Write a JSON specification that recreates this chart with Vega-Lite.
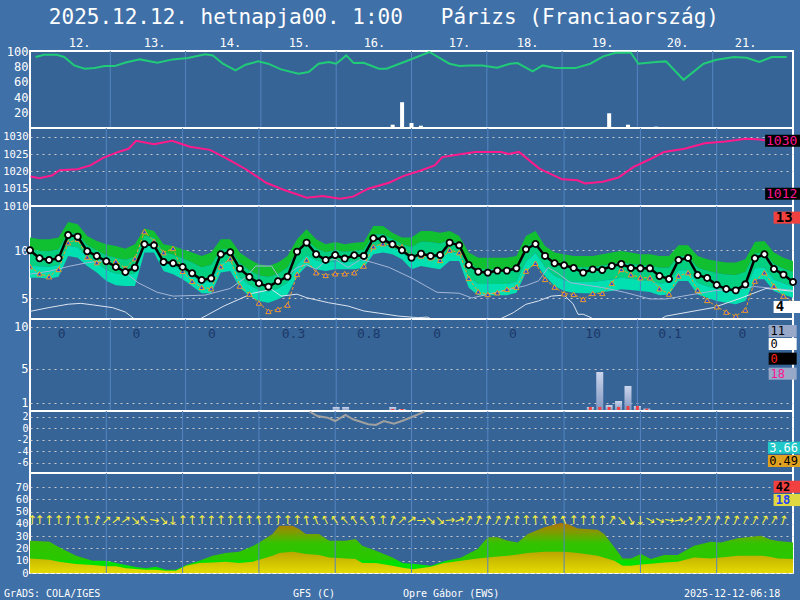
{
"$schema": "https://vega.github.io/schema/vega-lite/v6.json",
"padding": 0,
"autosize": {"type": "pad"},
"background": "#4070a8",
"spacing": 0,
"bounds": "flush",
"resolve": {"scale": {"color": "independent", "fill": "independent"}},
"config": {
  "view": {"stroke": "#ffffff", "strokeWidth": 2, "fill": "#366496"},
  "axis": {"labelFont": "DejaVu Sans Mono", "labelFontSize": 12, "labelColor": "#ffffff", "grid": true, "gridColor": "#c8c8c8", "gridDash": [2, 4], "gridWidth": 1, "domain": false, "ticks": false, "labelPadding": 2, "labelOverlap": false},
  "text": {"font": "DejaVu Sans Mono"}
},
"datasets": {
  "vg": [{"h":24},{"h":48},{"h":72},{"h":96},{"h":120},{"h":144},{"h":168},{"h":192},{"h":216}],
  "days": [{"d":"12.","h":14.2},{"d":"13.","h":38.1},{"d":"14.","h":62.3},{"d":"15.","h":84.3},{"d":"16.","h":108.2},{"d":"17.","h":135.3},{"d":"18.","h":157.0},{"d":"19.","h":180.9},{"d":"20.","h":204.8},{"d":"21.","h":226.5}],
  "rh": [{"h":0.2,"v":92.2},{"h":2.9,"v":95.2},{"h":6.9,"v":95.2},{"h":9.3,"v":92.2},{"h":12.5,"v":81.3},{"h":15.8,"v":77.0},{"h":19.0,"v":77.8},{"h":22.2,"v":80.4},{"h":25.4,"v":80.4},{"h":28.6,"v":84.8},{"h":33.4,"v":89.1},{"h":39.0,"v":84.8},{"h":43.9,"v":89.1},{"h":48.7,"v":90.9},{"h":54.3,"v":95.7},{"h":56.7,"v":94.3},{"h":59.9,"v":83.5},{"h":63.9,"v":74.8},{"h":67.1,"v":82.2},{"h":71.1,"v":86.5},{"h":74.3,"v":83.5},{"h":78.4,"v":76.1},{"h":84.0,"v":70.4},{"h":87.2,"v":72.6},{"h":90.4,"v":83.5},{"h":93.6,"v":85.7},{"h":96.0,"v":83.5},{"h":99.2,"v":94.3},{"h":101.6,"v":84.3},{"h":104.8,"v":84.8},{"h":109.6,"v":77.0},{"h":112.0,"v":77.0},{"h":117.7,"v":85.7},{"h":121.7,"v":92.2},{"h":125.7,"v":98.7},{"h":132.1,"v":83.5},{"h":135.3,"v":80.4},{"h":138.5,"v":81.3},{"h":142.5,"v":81.3},{"h":147.3,"v":78.3},{"h":151.4,"v":83.5},{"h":153.8,"v":84.3},{"h":158.6,"v":73.5},{"h":161.8,"v":81.3},{"h":165.8,"v":77.8},{"h":172.2,"v":77.8},{"h":177.0,"v":83.5},{"h":181.1,"v":93.0},{"h":185.1,"v":97.8},{"h":189.9,"v":97.8},{"h":192.3,"v":83.5},{"h":197.9,"v":85.7},{"h":201.1,"v":86.5},{"h":206.7,"v":62.6},{"h":213.1,"v":83.5},{"h":217.2,"v":88.7},{"h":222.8,"v":92.2},{"h":226.8,"v":91.3},{"h":230.8,"v":85.7},{"h":234.8,"v":92.2},{"h":239.6,"v":92.2}],
  "rhb": [{"h":114,"v":4.3},{"h":117,"v":33.5},{"h":120,"v":6.5},{"h":123,"v":3.0},{"h":183,"v":19.1},{"h":189,"v":4.3},{"h":198,"v":1.7}],
  "p": [{"h":0.2,"v":1018.5},{"h":2.9,"v":1018.0},{"h":6.9,"v":1018.8},{"h":9.3,"v":1020.3},{"h":14.9,"v":1020.6},{"h":19.0,"v":1021.7},{"h":23.0,"v":1023.9},{"h":27.8,"v":1025.6},{"h":31.0,"v":1026.5},{"h":33.4,"v":1028.8},{"h":39.0,"v":1027.8},{"h":44.7,"v":1028.8},{"h":50.3,"v":1027.1},{"h":56.6,"v":1026.2},{"h":61.5,"v":1023.9},{"h":67.9,"v":1020.6},{"h":74.3,"v":1016.7},{"h":80.0,"v":1014.6},{"h":87.1,"v":1012.4},{"h":92.0,"v":1012.9},{"h":97.6,"v":1012.1},{"h":101.6,"v":1012.7},{"h":106.4,"v":1015.0},{"h":112.9,"v":1016.7},{"h":117.6,"v":1018.7},{"h":122.5,"v":1020.1},{"h":127.3,"v":1021.7},{"h":129.7,"v":1024.1},{"h":135.3,"v":1024.9},{"h":140.1,"v":1025.6},{"h":148.2,"v":1025.6},{"h":150.6,"v":1025.0},{"h":153.8,"v":1025.6},{"h":160.2,"v":1020.8},{"h":167.4,"v":1017.7},{"h":172.2,"v":1017.4},{"h":174.6,"v":1016.5},{"h":180.2,"v":1017.0},{"h":185.1,"v":1018.2},{"h":189.9,"v":1021.3},{"h":195.5,"v":1023.7},{"h":199.5,"v":1025.6},{"h":205.9,"v":1026.5},{"h":212.3,"v":1028.1},{"h":218.8,"v":1028.6},{"h":225.2,"v":1029.4},{"h":229.9,"v":1029.2},{"h":231.6,"v":1028.8},{"h":240,"v":1029.0}],
  "t": [
{"h":0,"t":10.0,"d":8.29,"top":11.33,"q1":10.07,"q2":8.39,"bot":7.13},
{"h":3,"t":9.16,"d":7.55,"top":11.15,"q1":9.94,"q2":8.34,"bot":7.13},
{"h":6,"t":8.99,"d":7.24,"top":11.15,"q1":9.91,"q2":8.27,"bot":7.03},
{"h":9,"t":9.16,"d":8.0,"top":11.33,"q1":10.10,"q2":8.47,"bot":7.24},
{"h":12,"t":11.6,"d":10.8,"top":12.97,"q1":11.90,"q2":10.48,"bot":9.41},
{"h":15,"t":11.43,"d":11.15,"top":12.73,"q1":11.68,"q2":10.28,"bot":9.23},
{"h":18,"t":9.9,"d":9.3,"top":11.5,"q1":10.56,"q2":9.30,"bot":8.36},
{"h":21,"t":9.4,"d":8.71,"top":10.98,"q1":9.98,"q2":8.66,"bot":7.66},
{"h":24,"t":8.85,"d":8.78,"top":10.63,"q1":9.47,"q2":7.93,"bot":6.78},
{"h":27,"t":8.25,"d":8.85,"top":10.45,"q1":9.21,"q2":7.57,"bot":6.33},
{"h":30,"t":7.73,"d":8.11,"top":10.17,"q1":9.0,"q2":7.43,"bot":6.26},
{"h":33,"t":8.18,"d":9.13,"top":10.63,"q1":9.32,"q2":7.57,"bot":6.26},
{"h":36,"t":10.63,"d":11.96,"top":12.27,"q1":11.52,"q2":10.51,"bot":9.76},
{"h":39,"t":10.52,"d":10.94,"top":12.03,"q1":11.35,"q2":10.44,"bot":9.76},
{"h":42,"t":8.78,"d":9.76,"top":10.63,"q1":9.79,"q2":8.67,"bot":7.83},
{"h":45,"t":8.64,"d":10.2,"top":10.45,"q1":9.56,"q2":8.37,"bot":7.48},
{"h":48,"t":8.25,"d":7.8,"top":10.1,"q1":9.16,"q2":7.9,"bot":6.96},
{"h":51,"t":7.59,"d":6.75,"top":9.76,"q1":8.71,"q2":7.31,"bot":6.26},
{"h":54,"t":6.89,"d":6.12,"top":9.41,"q1":8.23,"q2":6.67,"bot":5.49},
{"h":57,"t":7.06,"d":5.98,"top":9.76,"q1":8.48,"q2":6.77,"bot":5.49},
{"h":60,"t":9.58,"d":8.29,"top":11.15,"q1":10.10,"q2":8.71,"bot":7.66},
{"h":63,"t":9.79,"d":9.13,"top":11.15,"q1":10.15,"q2":8.83,"bot":7.83},
{"h":66,"t":8.08,"d":6.26,"top":9.76,"q1":8.66,"q2":7.18,"bot":6.08},
{"h":69,"t":7.2,"d":5.42,"top":9.06,"q1":7.9,"q2":6.37,"bot":5.21},
{"h":72,"t":6.54,"d":4.48,"top":8.53,"q1":7.38,"q2":5.84,"bot":4.69},
{"h":75,"t":6.19,"d":3.6,"top":8.36,"q1":7.2,"q2":5.67,"bot":4.51},
{"h":78,"t":6.75,"d":3.81,"top":8.71,"q1":7.55,"q2":6.02,"bot":4.86},
{"h":81,"t":7.24,"d":4.27,"top":9.41,"q1":8.2,"q2":6.59,"bot":5.38},
{"h":84,"t":9.86,"d":7.48,"top":11.15,"q1":10.0,"q2":8.46,"bot":7.31},
{"h":87,"t":10.8,"d":8.99,"top":12.2,"q1":11.05,"q2":9.51,"bot":8.36},
{"h":90,"t":9.58,"d":7.66,"top":11.15,"q1":10.21,"q2":8.95,"bot":8.0},
{"h":93,"t":8.99,"d":7.38,"top":10.63,"q1":9.79,"q2":8.67,"bot":7.83},
{"h":96,"t":9.51,"d":7.55,"top":10.87,"q1":10.01,"q2":8.86,"bot":8.0},
{"h":99,"t":9.13,"d":7.55,"top":10.63,"q1":9.84,"q2":8.79,"bot":8.0},
{"h":102,"t":9.48,"d":7.66,"top":10.8,"q1":9.96,"q2":8.84,"bot":8.0},
{"h":105,"t":9.41,"d":8.36,"top":10.87,"q1":10.06,"q2":8.99,"bot":8.18},
{"h":108,"t":11.26,"d":10.38,"top":12.55,"q1":11.66,"q2":10.47,"bot":9.58},
{"h":111,"t":11.15,"d":10.7,"top":12.55,"q1":11.71,"q2":10.6,"bot":9.76},
{"h":114,"t":10.63,"d":10.52,"top":11.85,"q1":11.17,"q2":10.26,"bot":9.58},
{"h":117,"t":10.0,"d":10.38,"top":11.33,"q1":10.65,"q2":9.74,"bot":9.06},
{"h":120,"t":9.23,"d":9.41,"top":11.33,"q1":10.33,"q2":9.0,"bot":8.0},
{"h":123,"t":9.65,"d":9.41,"top":12.03,"q1":10.93,"q2":9.46,"bot":8.36},
{"h":126,"t":9.41,"d":9.23,"top":12.03,"q1":10.87,"q2":9.33,"bot":8.18},
{"h":129,"t":9.51,"d":8.95,"top":11.85,"q1":10.7,"q2":9.15,"bot":8.0},
{"h":132,"t":10.8,"d":10.03,"top":12.03,"q1":11.09,"q2":9.83,"bot":8.88},
{"h":135,"t":10.52,"d":9.76,"top":11.5,"q1":10.71,"q2":9.67,"bot":8.88},
{"h":138,"t":8.46,"d":7.06,"top":9.76,"q1":8.66,"q2":7.18,"bot":6.08},
{"h":141,"t":7.76,"d":5.66,"top":9.23,"q1":8.05,"q2":6.47,"bot":5.28},
{"h":144,"t":7.66,"d":5.38,"top":9.23,"q1":8.05,"q2":6.47,"bot":5.28},
{"h":147,"t":7.87,"d":5.56,"top":9.23,"q1":8.05,"q2":6.47,"bot":5.28},
{"h":150,"t":7.87,"d":5.91,"top":9.23,"q1":8.05,"q2":6.47,"bot":5.28},
{"h":153,"t":8.11,"d":6.15,"top":9.41,"q1":8.25,"q2":6.71,"bot":5.56},
{"h":156,"t":10.1,"d":7.83,"top":11.5,"q1":10.35,"q2":8.81,"bot":7.66},
{"h":159,"t":10.66,"d":8.64,"top":12.03,"q1":11.03,"q2":9.71,"bot":8.71},
{"h":162,"t":9.41,"d":6.96,"top":10.45,"q1":9.51,"q2":8.25,"bot":7.31},
{"h":165,"t":8.64,"d":6.15,"top":9.76,"q1":8.71,"q2":7.31,"bot":6.26},
{"h":168,"t":8.43,"d":5.45,"top":9.58,"q1":8.43,"q2":6.89,"bot":5.73},
{"h":171,"t":8.15,"d":5.38,"top":9.41,"q1":8.25,"q2":6.71,"bot":5.56},
{"h":174,"t":7.66,"d":4.86,"top":9.41,"q1":8.23,"q2":6.67,"bot":5.49},
{"h":177,"t":8.0,"d":5.49,"top":9.41,"q1":8.23,"q2":6.67,"bot":5.49},
{"h":180,"t":7.94,"d":5.49,"top":9.58,"q1":8.4,"q2":6.82,"bot":5.63},
{"h":183,"t":8.36,"d":6.54,"top":9.76,"q1":8.55,"q2":6.94,"bot":5.73},
{"h":186,"t":8.57,"d":8.0,"top":9.93,"q1":8.72,"q2":7.12,"bot":5.91},
{"h":189,"t":8.15,"d":7.45,"top":9.76,"q1":8.58,"q2":7.02,"bot":5.84},
{"h":192,"t":8.11,"d":7.13,"top":9.58,"q1":8.43,"q2":6.89,"bot":5.73},
{"h":195,"t":8.11,"d":7.13,"top":9.58,"q1":8.4,"q2":6.82,"bot":5.63},
{"h":198,"t":7.31,"d":5.98,"top":9.41,"q1":8.17,"q2":6.52,"bot":5.28},
{"h":201,"t":6.99,"d":5.42,"top":9.41,"q1":8.2,"q2":6.59,"bot":5.38},
{"h":204,"t":8.99,"d":7.31,"top":10.52,"q1":9.4,"q2":7.9,"bot":6.78},
{"h":207,"t":9.2,"d":7.66,"top":10.52,"q1":9.4,"q2":7.9,"bot":6.78},
{"h":210,"t":7.41,"d":5.84,"top":9.41,"q1":8.2,"q2":6.59,"bot":5.38},
{"h":213,"t":7.1,"d":4.76,"top":9.06,"q1":7.85,"q2":6.24,"bot":5.03},
{"h":216,"t":6.36,"d":4.09,"top":8.88,"q1":7.62,"q2":5.95,"bot":4.69},
{"h":219,"t":5.94,"d":3.53,"top":8.71,"q1":7.45,"q2":5.77,"bot":4.51},
{"h":222,"t":5.8,"d":3.11,"top":8.71,"q1":7.4,"q2":5.65,"bot":4.34},
{"h":225,"t":6.43,"d":3.74,"top":9.06,"q1":7.75,"q2":6.0,"bot":4.69},
{"h":228,"t":9.16,"d":6.78,"top":10.87,"q1":9.7,"q2":8.13,"bot":6.96},
{"h":231,"t":9.58,"d":7.66,"top":10.98,"q1":9.77,"q2":8.17,"bot":6.96},
{"h":234,"t":8.04,"d":6.26,"top":9.76,"q1":8.55,"q2":6.94,"bot":5.73},
{"h":237,"t":7.45,"d":5.21,"top":9.23,"q1":8.08,"q2":6.54,"bot":5.38},
{"h":240,"t":6.68,"d":4.51,"top":8.88,"q1":7.73,"q2":6.18,"bot":5.03}
  ],
  "g1": [{"h":0,"v":7.5},{"h":6,"v":7.8},{"h":12,"v":8.3},{"h":18,"v":8.7},{"h":23,"v":8.9},{"h":28,"v":8.2},{"h":34,"v":6.6},{"h":40,"v":5.6},{"h":45,"v":5.2},{"h":55,"v":5.3},{"h":63,"v":6.0},{"h":68,"v":7.2},{"h":71,"v":8.35},{"h":76,"v":8.35},{"h":79,"v":6.8},{"h":84,"v":8.2},{"h":87,"v":8.5},{"h":90,"v":8.0},{"h":93,"v":8.9},{"h":96,"v":9.05},{"h":100,"v":8.2},{"h":104,"v":9.05},{"h":108,"v":8.7},{"h":113,"v":8.2},{"h":120,"v":7.1},{"h":128,"v":5.6},{"h":135,"v":5.5},{"h":139,"v":5.0},{"h":148,"v":5.7},{"h":156,"v":6.3},{"h":160,"v":6.8},{"h":163,"v":8.2},{"h":166,"v":7.6},{"h":170,"v":6.6},{"h":180,"v":6.1},{"h":187,"v":5.6},{"h":195,"v":4.9},{"h":200,"v":4.9},{"h":209,"v":5.4},{"h":216,"v":5.8},{"h":222,"v":5.9},{"h":228,"v":6.2},{"h":234,"v":6.0},{"h":240,"v":5.8}],
  "g2": [{"h":0,"v":3.6},{"h":6,"v":4.0},{"h":12,"v":4.35},{"h":16,"v":4.44},{"h":20,"v":4.27},{"h":26,"v":3.99},{"h":30,"v":3.53},{"h":33,"v":2.76},{"h":36,"v":2.0},{"h":50,"v":2.0},{"h":54,"v":2.9},{"h":61,"v":4.16},{"h":70,"v":5.49},{"h":76,"v":5.9},{"h":79,"v":5.2},{"h":84,"v":5.4},{"h":87,"v":5.03},{"h":94,"v":4.5},{"h":100,"v":4.16},{"h":105,"v":3.64},{"h":110,"v":3.4},{"h":116,"v":3.1},{"h":122,"v":2.94},{"h":125,"v":3.0},{"h":128,"v":2.5},{"h":146,"v":2.5},{"h":152,"v":3.46},{"h":156,"v":4.34},{"h":160,"v":4.7},{"h":164,"v":5.2},{"h":168,"v":5.3},{"h":170.8,"v":4.4},{"h":172.4,"v":3.29},{"h":174,"v":3.3},{"h":176.5,"v":2.94},{"h":178,"v":2.5},{"h":197,"v":2.5},{"h":200,"v":3.1},{"h":215,"v":4.0},{"h":223.7,"v":5.0},{"h":231.5,"v":6.0},{"h":240,"v":5.7}],
  "pb": [{"h":96,"v":0.48},{"h":99,"v":0.48},{"h":114,"v":0.48},{"h":117,"v":0.24},{"h":177,"v":0.48},{"h":180,"v":4.64},{"h":183,"v":0.71},{"h":186,"v":1.19},{"h":189,"v":2.98},{"h":192,"v":0.6},{"h":195,"v":0.28}],
  "pr": [{"h":114,"v":0.24},{"h":117,"v":0.24},{"h":177,"v":0.48},{"h":180,"v":0.48},{"h":183,"v":0.48},{"h":186,"v":0.48},{"h":189,"v":0.6},{"h":192,"v":0.6},{"h":195,"v":0.28}],
  "pl": [{"h":8.5,"s":"0"},{"h":32.3,"s":"0"},{"h":56.4,"s":"0"},{"h":82.4,"s":"0.3"},{"h":106.4,"s":"0.8"},{"h":128.2,"s":"0"},{"h":152.3,"s":"0"},{"h":177.9,"s":"10"},{"h":202.4,"s":"0.1"},{"h":225.5,"s":"0"}],
  "s5": [{"h":88.0,"v":2.92},{"h":90.4,"v":2.17},{"h":93.6,"v":1.88},{"h":96.0,"v":1.30},{"h":99.2,"v":2.35},{"h":101.6,"v":1.6},{"h":106.4,"v":0.73},{"h":108.8,"v":0.61},{"h":111.3,"v":1.30},{"h":114.5,"v":0.83},{"h":117.6,"v":1.43},{"h":120.9,"v":2.17},{"h":124.1,"v":2.92}],
  "w": [{"h":0,"g":26.3,"s":11.9},{"h":6.1,"g":25.5,"s":10.8},{"h":9.2,"g":20.9,"s":9.2},{"h":14.5,"g":14.1,"s":7.3},{"h":19.7,"g":10.0,"s":6.5},{"h":23.9,"g":10.0,"s":5.4},{"h":27.1,"g":8.1,"s":5.4},{"h":30.2,"g":6.5,"s":3.8},{"h":33.3,"g":4.9,"s":3.2},{"h":36.5,"g":3.8,"s":2.7},{"h":39.6,"g":5.1,"s":2.7},{"h":42.8,"g":2.7,"s":1.9},{"h":45.9,"g":2.7,"s":1.9},{"h":49.1,"g":6.5,"s":5.9},{"h":53.3,"g":10.0,"s":8.1},{"h":57.4,"g":14.1,"s":8.6},{"h":61.6,"g":16.2,"s":9.2},{"h":65.8,"g":17.3,"s":8.1},{"h":70.0,"g":21.7,"s":9.2},{"h":72.1,"g":24.9,"s":10.8},{"h":76.3,"g":31.7,"s":14.1},{"h":78.4,"g":38.5,"s":16.2},{"h":82.6,"g":38.5,"s":17.3},{"h":84.6,"g":35.8,"s":16.5},{"h":86.7,"g":31.7,"s":15.4},{"h":90.9,"g":31.7,"s":14.6},{"h":94.1,"g":26.3,"s":12.7},{"h":99.3,"g":26.3,"s":11.9},{"h":102.4,"g":27.6,"s":11.4},{"h":104.5,"g":22.2,"s":8.1},{"h":108.8,"g":18.1,"s":8.1},{"h":114.0,"g":12.7,"s":5.9},{"h":117.2,"g":8.1,"s":4.3},{"h":120.5,"g":7.5,"s":3.0},{"h":126.1,"g":6.0,"s":5.0},{"h":130.3,"g":9.5,"s":8.1},{"h":135.6,"g":12.7,"s":10.0},{"h":140.8,"g":19.5,"s":11.9},{"h":144.0,"g":29.0,"s":12.7},{"h":147.1,"g":29.0,"s":13.4},{"h":150.3,"g":26.3,"s":14.1},{"h":153.4,"g":24.9,"s":15.0},{"h":156.6,"g":31.7,"s":16.2},{"h":161.8,"g":37.2,"s":17.3},{"h":167.0,"g":40.7,"s":17.3},{"h":169.1,"g":39.8,"s":17.0},{"h":172.3,"g":36.3,"s":16.2},{"h":178.6,"g":35.2,"s":14.1},{"h":180.6,"g":31.7,"s":12.5},{"h":183.8,"g":20.9,"s":10.0},{"h":186.4,"g":11.9,"s":5.9},{"h":189.0,"g":11.9,"s":5.9},{"h":192.2,"g":15.4,"s":7.0},{"h":195.3,"g":11.4,"s":7.5},{"h":199.5,"g":14.6,"s":8.6},{"h":203.7,"g":14.6,"s":9.2},{"h":208.9,"g":22.2,"s":12.7},{"h":214.2,"g":25.5,"s":11.9},{"h":217.3,"g":24.9,"s":12.7},{"h":222.6,"g":28.2,"s":14.1},{"h":229.9,"g":30.3,"s":14.1},{"h":233.1,"g":27.1,"s":13.0},{"h":235.2,"g":26.0,"s":11.9},{"h":240,"g":24.9,"s":11.4}],
  "arr": [{"h":0.6,"dir":0},{"h":3,"dir":0},{"h":6,"dir":0},{"h":9,"dir":0},{"h":12,"dir":5},{"h":15,"dir":0},{"h":18,"dir":350},{"h":21,"dir":20},{"h":24,"dir":45},{"h":27,"dir":50},{"h":30,"dir":55},{"h":33,"dir":135},{"h":36,"dir":315},{"h":39,"dir":100},{"h":42,"dir":140},{"h":45,"dir":180},{"h":48,"dir":0},{"h":51,"dir":0},{"h":54,"dir":0},{"h":57,"dir":5},{"h":60,"dir":0},{"h":63,"dir":0},{"h":66,"dir":0},{"h":69,"dir":355},{"h":72,"dir":350},{"h":75,"dir":0},{"h":78,"dir":0},{"h":81,"dir":0},{"h":84,"dir":0},{"h":87,"dir":350},{"h":90,"dir":340},{"h":93,"dir":335},{"h":96,"dir":325},{"h":99,"dir":320},{"h":102,"dir":325},{"h":105,"dir":320},{"h":108,"dir":340},{"h":111,"dir":0},{"h":114,"dir":20},{"h":117,"dir":45},{"h":120,"dir":55},{"h":123,"dir":90},{"h":126,"dir":130},{"h":129,"dir":135},{"h":132,"dir":85},{"h":135,"dir":70},{"h":138,"dir":30},{"h":141,"dir":20},{"h":144,"dir":20},{"h":147,"dir":25},{"h":150,"dir":20},{"h":153,"dir":10},{"h":156,"dir":0},{"h":159,"dir":355},{"h":162,"dir":350},{"h":165,"dir":350},{"h":168,"dir":340},{"h":171,"dir":0},{"h":174,"dir":0},{"h":177,"dir":0},{"h":180,"dir":0},{"h":183,"dir":30},{"h":186,"dir":140},{"h":189,"dir":150},{"h":192,"dir":180},{"h":195,"dir":120},{"h":198,"dir":115},{"h":201,"dir":100},{"h":204,"dir":80},{"h":207,"dir":60},{"h":210,"dir":40},{"h":213,"dir":30},{"h":216,"dir":25},{"h":219,"dir":20},{"h":222,"dir":20},{"h":225,"dir":25},{"h":228,"dir":25},{"h":231,"dir":30},{"h":234,"dir":30},{"h":237,"dir":15}],
  "foot": [{"s":"GrADS: COLA/IGES","h":-8.2},{"s":"GFS (C)","h":82.7},{"s":"Opre Gábor (EWS)","h":117.3},{"s":"2025-12-12-06:18","h":205.7}]
},
"vconcat": [
{
  "width": 763, "height": 77,
  "resolve": {"axis": {"y": "independent"}},
  "layer": [
    {"data":{"values":[{}]},"mark":{"type":"rect","opacity":0},"encoding":{"x":{"datum":-9.12,"type":"quantitative","axis":null},"x2":{"datum":242.53},"y":{"datum":100,"type":"quantitative","axis":null},"y2":{"datum":164.9}}},
    {"data":{"values":[{"s":"2025.12.12. hetnapja00. 1:00\u00a0\u00a0\u00a0Párizs (Franciaország)"}]},"mark":{"type":"text","fontSize":21,"color":"#ffffff","align":"center","baseline":"middle"},"encoding":{"x":{"datum":111.2,"type":"quantitative","axis":null},"y":{"datum":142.9,"type":"quantitative","axis":null},"text":{"field":"s"}}},
    {"data":{"name":"days"},"mark":{"type":"text","fontSize":12,"color":"#ffffff","align":"center","baseline":"middle"},"encoding":{"x":{"field":"h","type":"quantitative","scale":{"domain":[0,240],"nice":false,"zero":false},"axis":null},"y":{"datum":110.4,"type":"quantitative","axis":null},"text":{"field":"d"}}},
    {"data":{"name":"vg"},"mark":{"type":"rule","color":"#5585c2","strokeWidth":1},"encoding":{"x":{"field":"h","type":"quantitative","scale":{"domain":[0,240],"nice":false,"zero":false},"axis":null}}},
    {"data":{"name":"rhb"},"mark":{"type":"bar","size":4,"color":"#ffffff"},"encoding":{"x":{"field":"h","type":"quantitative","scale":{"domain":[0,240],"nice":false,"zero":false},"axis":null},"y":{"field":"v","type":"quantitative","axis":null}}},
    {"data":{"name":"rh"},"mark":{"type":"line","color":"#20cc78","strokeWidth":2},"encoding":{"x":{"field":"h","type":"quantitative","scale":{"domain":[0,240],"nice":false,"zero":false},"axis":null},"y":{"field":"v","type":"quantitative","scale":{"domain":[0,100],"nice":false,"zero":false},"axis":{"values":[20,40,60,80,100],"title":null,"labelExpr":"'' + datum.value"}}}}
  ]
},
{
  "width": 763, "height": 78,
  "resolve": {"axis": {"y": "independent"}},
  "layer": [
    {"data":{"name":"vg"},"mark":{"type":"rule","color":"#5585c2","strokeWidth":1},"encoding":{"x":{"field":"h","type":"quantitative","scale":{"domain":[0,240],"nice":false,"zero":false},"axis":null}}},
    {"data":{"name":"p"},"mark":{"type":"line","color":"#ff1a8c","strokeWidth":2},"encoding":{"x":{"field":"h","type":"quantitative","scale":{"domain":[0,240],"nice":false,"zero":false},"axis":null},"y":{"field":"v","type":"quantitative","scale":{"domain":[1010,1032.5],"nice":false,"zero":false},"axis":{"values":[1010,1015,1020,1025,1030],"title":null,"labelFontSize":10.5,"labelExpr":"'' + datum.value"}}}},
    {"data":{"values":[{"k":"p1","lab":"1030","v":1028.8},{"k":"p2","lab":"1012","v":1013.55}]},"mark":{"type":"point","shape":"M-1,-0.333H1V0.333H-1Z","size":1296,"filled":true,"opacity":1},"encoding":{"x":{"datum":236.9,"type":"quantitative","axis":null},"y":{"field":"v","type":"quantitative","axis":null},"fill":{"field":"k","type":"nominal","scale":{"domain":["p1","p2"],"range":["#000000","#000000"]},"legend":null}}},
    {"data":{"values":[{"k":"p1","lab":"1030","v":1028.8},{"k":"p2","lab":"1012","v":1013.55}]},"mark":{"type":"text","fontSize":13,"align":"left","baseline":"middle"},"encoding":{"x":{"datum":231.5,"type":"quantitative","axis":null},"y":{"field":"v","type":"quantitative","axis":null},"text":{"field":"lab"},"color":{"field":"k","type":"nominal","scale":{"domain":["p1","p2"],"range":["#ff1493","#ff1493"]},"legend":null}}}
  ]
},
{
  "width": 763, "height": 113,
  "resolve": {"axis": {"y": "independent"}},
  "layer": [
    {"data":{"name":"t"},"mark":{"type":"area","color":"#10c030","clip":true},"encoding":{"x":{"field":"h","type":"quantitative","scale":{"domain":[0,240],"nice":false,"zero":false},"axis":null},"y":{"field":"top","type":"quantitative","scale":{"domain":[2.8,14.64],"nice":false,"zero":false},"axis":{"values":[5,10],"title":null,"labelExpr":"'' + datum.value"}},"y2":{"field":"q1"}}},
    {"data":{"name":"t"},"mark":{"type":"area","color":"#00d080","clip":true},"encoding":{"x":{"field":"h","type":"quantitative","axis":null},"y":{"field":"q1","type":"quantitative","axis":null},"y2":{"field":"q2"}}},
    {"data":{"name":"t"},"mark":{"type":"area","color":"#00e0b0","clip":true},"encoding":{"x":{"field":"h","type":"quantitative","axis":null},"y":{"field":"q2","type":"quantitative","axis":null},"y2":{"field":"bot"}}},
    {"data":{"name":"vg"},"mark":{"type":"rule","color":"#5585c2","strokeWidth":1},"encoding":{"x":{"field":"h","type":"quantitative","axis":null}}},
    {"data":{"name":"g1"},"mark":{"type":"line","color":"#a4b6d6","strokeWidth":1,"clip":true},"encoding":{"x":{"field":"h","type":"quantitative","axis":null},"y":{"field":"v","type":"quantitative","axis":null}}},
    {"data":{"name":"g2"},"mark":{"type":"line","color":"#dce4f0","strokeWidth":1,"clip":true},"encoding":{"x":{"field":"h","type":"quantitative","axis":null},"y":{"field":"v","type":"quantitative","axis":null}}},
    {"data":{"name":"t"},"mark":{"type":"line","color":"#f0a020","strokeWidth":1,"strokeDash":[3,2],"clip":true},"encoding":{"x":{"field":"h","type":"quantitative","axis":null},"y":{"field":"d","type":"quantitative","axis":null}}},
    {"data":{"name":"t"},"mark":{"type":"point","shape":"triangle-up","size":28,"filled":true,"color":"#2848e0","stroke":"#f0a020","strokeWidth":1,"opacity":1,"clip":true},"encoding":{"x":{"field":"h","type":"quantitative","axis":null},"y":{"field":"d","type":"quantitative","axis":null}}},
    {"data":{"name":"t"},"mark":{"type":"line","color":"#000000","strokeWidth":2.5},"encoding":{"x":{"field":"h","type":"quantitative","axis":null},"y":{"field":"t","type":"quantitative","axis":null}}},
    {"data":{"name":"t"},"mark":{"type":"point","shape":"circle","size":38,"filled":true,"color":"#ffffff","stroke":"#000000","strokeWidth":1.8,"opacity":1},"encoding":{"x":{"field":"h","type":"quantitative","axis":null},"y":{"field":"t","type":"quantitative","axis":null}}},
    {"data":{"values":[{"k":"t1","lab":"13","v":13.42},{"k":"t2","lab":"4","v":4.06}]},"mark":{"type":"point","shape":"M-1,-0.43H1V0.43H-1Z","size":784,"filled":true,"opacity":1},"encoding":{"x":{"datum":238.3,"type":"quantitative","axis":null},"y":{"field":"v","type":"quantitative","axis":null},"fill":{"field":"k","type":"nominal","scale":{"domain":["t1","t2"],"range":["#f04040","#ffffff"]},"legend":null}}},
    {"data":{"values":[{"k":"t1","lab":"13","v":13.42},{"k":"t2","lab":"4","v":4.06}]},"mark":{"type":"text","fontSize":14,"fontWeight":"bold","align":"left","baseline":"middle"},"encoding":{"x":{"datum":234.6,"type":"quantitative","axis":null},"y":{"field":"v","type":"quantitative","axis":null},"text":{"field":"lab"},"color":{"field":"k","type":"nominal","scale":{"domain":["t1","t2"],"range":["#000000","#000000"]},"legend":null}}}
  ]
},
{
  "width": 763, "height": 92,
  "resolve": {"axis": {"y": "independent"}},
  "layer": [
    {"data":{"name":"vg"},"mark":{"type":"rule","color":"#5585c2","strokeWidth":1},"encoding":{"x":{"field":"h","type":"quantitative","scale":{"domain":[0,240],"nice":false,"zero":false},"axis":null}}},
    {"data":{"name":"pb"},"mark":{"type":"bar","size":7,"color":{"gradient":"linear","x1":0,"y1":1,"x2":0,"y2":0,"stops":[{"offset":0,"color":"#7e94c0"},{"offset":1,"color":"#ccd6ec"}]}},"encoding":{"x":{"field":"h","type":"quantitative","axis":null},"y":{"field":"v","type":"quantitative","scale":{"domain":[0,10.95],"nice":false,"zero":false},"axis":{"values":[1,5,10],"title":null,"labelExpr":"'' + datum.value"}}}},
    {"data":{"name":"pr"},"mark":{"type":"bar","size":3,"color":"#f04040"},"encoding":{"x":{"field":"h","type":"quantitative","axis":null},"y":{"field":"v","type":"quantitative","axis":null}}},
    {"data":{"name":"pl"},"mark":{"type":"text","fontSize":13,"color":"#1c3868","align":"center","baseline":"middle"},"encoding":{"x":{"field":"h","type":"quantitative","axis":null},"y":{"datum":9.17,"type":"quantitative","axis":null},"text":{"field":"s"}}},
    {"data":{"values":[{"k":"r1","lab":"11","v":9.52},{"k":"r2","lab":"0","v":7.98},{"k":"r3","lab":"0","v":6.23},{"k":"r4","lab":"18","v":4.44}]},"mark":{"type":"point","shape":"M-1,-0.43H1V0.43H-1Z","size":784,"filled":true,"opacity":1},"encoding":{"x":{"datum":238.3,"type":"quantitative","axis":null},"y":{"field":"v","type":"quantitative","axis":null},"fill":{"field":"k","type":"nominal","scale":{"domain":["r1","r2","r3","r4"],"range":["#98a8c8","#ffffff","#000000","#98a8c8"]},"legend":null}}},
    {"data":{"values":[{"k":"r1","lab":"11","v":9.52},{"k":"r2","lab":"0","v":7.98},{"k":"r3","lab":"0","v":6.23},{"k":"r4","lab":"18","v":4.44}]},"mark":{"type":"text","fontSize":12,"align":"left","baseline":"middle"},"encoding":{"x":{"datum":234.4,"type":"quantitative","axis":null},"y":{"field":"v","type":"quantitative","axis":null},"text":{"field":"lab"},"color":{"field":"k","type":"nominal","scale":{"domain":["r1","r2","r3","r4"],"range":["#000000","#000000","#ff2020","#ff1493"]},"legend":null}}}
  ]
},
{
  "width": 763, "height": 62,
  "resolve": {"axis": {"y": "independent"}},
  "layer": [
    {"data":{"name":"vg"},"mark":{"type":"rule","color":"#5585c2","strokeWidth":1},"encoding":{"x":{"field":"h","type":"quantitative","scale":{"domain":[0,240],"nice":false,"zero":false},"axis":null}}},
    {"data":{"name":"s5"},"mark":{"type":"line","color":"#a0a0a0","strokeWidth":2},"encoding":{"x":{"field":"h","type":"quantitative","axis":null},"y":{"field":"v","type":"quantitative","scale":{"domain":[-7.74,3.04],"nice":false,"zero":false},"axis":{"values":[-6,-4,-2,0,2],"title":null,"labelFontSize":10,"labelExpr":"'' + datum.value"}}}},
    {"data":{"values":[{"k":"s1","lab":"3.66","v":-3.34},{"k":"s2","lab":"0.49","v":-5.65}]},"mark":{"type":"point","shape":"M-1,-0.36H1V0.36H-1Z","size":1089,"filled":true,"opacity":1},"encoding":{"x":{"datum":237.3,"type":"quantitative","axis":null},"y":{"field":"v","type":"quantitative","axis":null},"fill":{"field":"k","type":"nominal","scale":{"domain":["s1","s2"],"range":["#20c8c8","#e0a020"]},"legend":null}}},
    {"data":{"values":[{"k":"s1","lab":"3.66","v":-3.34},{"k":"s2","lab":"0.49","v":-5.65}]},"mark":{"type":"text","fontSize":12,"align":"left","baseline":"middle"},"encoding":{"x":{"datum":232.5,"type":"quantitative","axis":null},"y":{"field":"v","type":"quantitative","axis":null},"text":{"field":"lab"},"color":{"field":"k","type":"nominal","scale":{"domain":["s1","s2"],"range":["#ffffff","#000000"]},"legend":null}}}
  ]
},
{
  "width": 763, "height": 100,
  "resolve": {"axis": {"y": "independent"}},
  "layer": [
    {"data":{"name":"w"},"mark":{"type":"area","color":{"gradient":"linear","x1":0,"y1":1,"x2":0,"y2":0,"stops":[{"offset":0,"color":"#00e400"},{"offset":0.24,"color":"#00e000"},{"offset":0.27,"color":"#28c800"},{"offset":0.6,"color":"#34c200"},{"offset":0.72,"color":"#60ac00"},{"offset":0.85,"color":"#8c9400"},{"offset":1,"color":"#b07400"}]}},"encoding":{"x":{"field":"h","type":"quantitative","scale":{"domain":[0,240],"nice":false,"zero":false},"axis":null},"y":{"field":"g","type":"quantitative","scale":{"domain":[0,81.4],"nice":false,"zero":false},"axis":{"values":[0,10,20,30,40,50,60,70],"title":null,"labelFontSize":10.5,"labelExpr":"'' + datum.value"}}}},
    {"data":{"name":"w"},"mark":{"type":"area","color":{"gradient":"linear","x1":0,"y1":1,"x2":0,"y2":0,"stops":[{"offset":0,"color":"#e4dc00"},{"offset":0.5,"color":"#d0c200"},{"offset":1,"color":"#bca600"}]}},"encoding":{"x":{"field":"h","type":"quantitative","axis":null},"y":{"field":"s","type":"quantitative","axis":null}}},
    {"data":{"name":"vg"},"mark":{"type":"rule","color":"#5585c2","strokeWidth":1},"encoding":{"x":{"field":"h","type":"quantitative","axis":null}}},
    {"data":{"name":"arr"},"mark":{"type":"text","font":"DejaVu Sans","fontSize":12,"color":"#f8f040","align":"center","baseline":"middle"},"encoding":{"x":{"field":"h","type":"quantitative","axis":null},"y":{"datum":43,"type":"quantitative","axis":null},"angle":{"field":"dir","type":"quantitative","scale":null},"text":{"value":"↑"}}},
    {"data":{"values":[{"k":"w1","lab":"42","v":70.2},{"k":"w2","lab":"18","v":59.4}]},"mark":{"type":"point","shape":"M-1,-0.43H1V0.43H-1Z","size":784,"filled":true,"opacity":1},"encoding":{"x":{"datum":238.3,"type":"quantitative","axis":null},"y":{"field":"v","type":"quantitative","axis":null},"fill":{"field":"k","type":"nominal","scale":{"domain":["w1","w2"],"range":["#f04040","#e0d840"]},"legend":null}}},
    {"data":{"values":[{"k":"w1","lab":"42","v":70.2},{"k":"w2","lab":"18","v":59.4}]},"mark":{"type":"text","fontSize":12,"fontWeight":"bold","align":"left","baseline":"middle"},"encoding":{"x":{"datum":234.6,"type":"quantitative","axis":null},"y":{"field":"v","type":"quantitative","axis":null},"text":{"field":"lab"},"color":{"field":"k","type":"nominal","scale":{"domain":["w1","w2"],"range":["#000000","#2040ff"]},"legend":null}}},
    {"data":{"name":"foot"},"mark":{"type":"text","fontSize":10,"color":"#ffffff","align":"left","baseline":"middle"},"encoding":{"x":{"field":"h","type":"quantitative","axis":null},"y":{"datum":-17.1,"type":"quantitative","axis":null},"text":{"field":"s"}}},
    {"data":{"values":[{}]},"mark":{"type":"rect","opacity":0},"encoding":{"x":{"datum":-9.12,"type":"quantitative","axis":null},"x2":{"datum":242.53},"y":{"datum":0,"type":"quantitative","axis":null},"y2":{"datum":-22.8}}}
  ]
}
]
}
